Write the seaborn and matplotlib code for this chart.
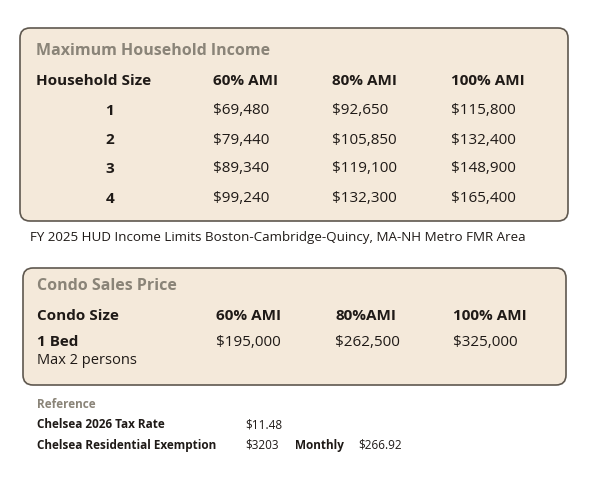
import matplotlib
matplotlib.use("Agg")
import matplotlib.pyplot as plt
import seaborn as sns
from matplotlib.patches import FancyBboxPatch

sns.set_theme(style="white")
plt.rcParams['font.family'] = ['Open Sans', 'DejaVu Sans']

income_title = "Maximum Household Income"
income_headers = ["Household Size", "60% AMI", "80% AMI", "100% AMI"]
household_sizes = ["1", "2", "3", "4"]
ami60 = ["$69,480", "$79,440", "$89,340", "$99,240"]
ami80 = ["$92,650", "$105,850", "$119,100", "$132,300"]
ami100 = ["$115,800", "$132,400", "$148,900", "$165,400"]
footnote = "FY 2025 HUD Income Limits Boston-Cambridge-Quincy, MA-NH Metro FMR Area"
condo_title = "Condo Sales Price"
condo_headers = ["Condo Size", "60% AMI", "80%AMI", "100% AMI"]
condo_row = ["1 Bed", "$195,000", "$262,500", "$325,000"]
condo_note = "Max 2 persons"
ref_title = "Reference"
ref_labels = ["Chelsea 2026 Tax Rate", "Chelsea Residential Exemption"]
ref_values = ["$11.48", "$3203"]
monthly_label = "Monthly"
monthly_value = "$266.92"

fig = plt.figure(figsize=(5.99, 4.8), dpi=100)
ax = fig.add_axes([0, 0, 1, 1])
ax.set_xlim(0, 599); ax.set_ylim(480, 0); ax.axis("off")

fill = "#F4E9DA"; edge = "#5f584f"; dark = "#1f1a17"; grey = "#8a8478"
for (x0, y0, x1, y1) in [(20, 28, 568, 221), (23, 268, 566, 385)]:
    ax.add_patch(FancyBboxPatch((x0, y0), x1 - x0, y1 - y0,
                                boxstyle="round,pad=0,rounding_size=10",
                                fc=fill, ec=edge, lw=1.2))

def t(x, y, s, size=11, bold=False, color=dark, ha="left"):
    ax.text(x, y, s, fontsize=size, fontweight="bold" if bold else "normal",
            color=color, ha=ha, va="center")

t(36, 51, income_title, 11.5, True, grey)
hx = [36, 213, 332, 451]
for x, h in zip(hx, income_headers):
    t(x, 81, h, 11, True)
rows_y = [111, 140, 169, 199]
for i, y in enumerate(rows_y):
    t(110, y, household_sizes[i], 11, True, ha="center")
    t(213, y, ami60[i], 11)
    t(332, y, ami80[i], 11)
    t(451, y, ami100[i], 11)
t(30, 238, footnote, 9.6)

t(37, 286, condo_title, 11.5, True, grey)
cx = [37, 216, 335, 453]
for x, h in zip(cx, condo_headers):
    t(x, 316, h, 11, True)
for x, v, b in zip(cx, condo_row, [True, False, False, False]):
    t(x, 342, v, 11, b)
t(37, 361, condo_note, 10.5)

t(37, 404, ref_title, 8.5, True, grey)
for y, lab, val in zip([425, 445], ref_labels, ref_values):
    t(37, y, lab, 8.5, True)
    t(245, y, val, 8.5)
t(295, 445, monthly_label, 8.5, True)
t(358, 445, monthly_value, 8.5)

fig.savefig("out.png", dpi=100, facecolor="white")
